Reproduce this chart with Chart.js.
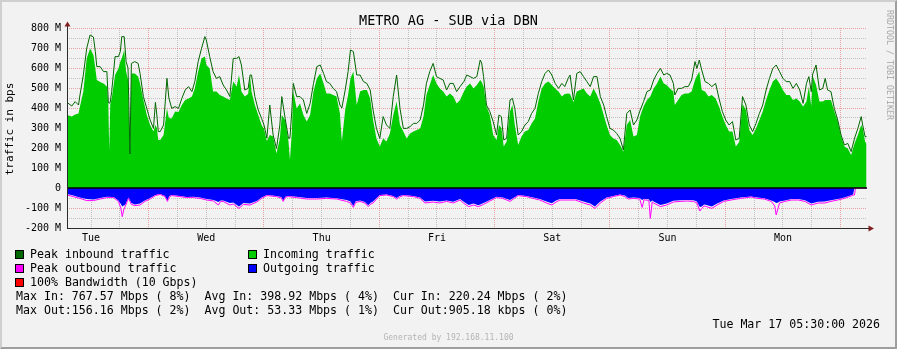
<!DOCTYPE html>
<html><head><meta charset="utf-8">
<script src="https://cdn.jsdelivr.net/npm/chart.js@4.4.1/dist/chart.umd.min.js"></script>
<style>
html,body{margin:0;padding:0;background:#f2f2f2;}
#wrap{position:relative;width:897px;height:349px;background:#f2f2f2;overflow:hidden;font-family:"DejaVu Sans Mono",monospace;color:#000;}
#c{position:absolute;left:0;top:0;}
.t{position:absolute;white-space:pre;font-size:11.6px;line-height:14px;}
.box{position:absolute;width:7px;height:7px;border:1px solid #000;}
#frame{position:absolute;left:0;top:0;width:897px;height:349px;box-sizing:border-box;border-top:2px solid #cfcfcf;border-left:2px solid #cfcfcf;border-bottom:2px solid #9e9e9e;border-right:2px solid #9e9e9e;pointer-events:none;}
</style></head>
<body>
<div id="wrap">
<canvas id="c" width="897" height="349"></canvas>
<div class="t" style="left:0;width:897px;top:12px;text-align:center;font-size:13.5px;line-height:16px;">METRO AG - SUB via DBN</div>
<div class="t" style="left:-90px;top:122px;width:200px;text-align:center;font-size:11px;transform:rotate(-90deg);">traffic in bps</div>
<div class="t" style="left:840px;top:54px;width:100px;text-align:center;font-size:8.3px;line-height:12px;color:#a8a8a8;transform:rotate(90deg);">RRDTOOL / TOBI OETIKER</div>
<div class="box" style="left:15px;top:250px;background:#006600"></div>
<div class="t" style="left:30px;top:247px;">Peak inbound traffic</div>
<div class="box" style="left:248px;top:250px;background:#00cc00"></div>
<div class="t" style="left:263px;top:247px;">Incoming traffic</div>
<div class="box" style="left:15px;top:264px;background:#ff00ff"></div>
<div class="t" style="left:30px;top:261px;">Peak outbound traffic</div>
<div class="box" style="left:248px;top:264px;background:#0000ff"></div>
<div class="t" style="left:263px;top:261px;">Outgoing traffic</div>
<div class="box" style="left:15px;top:278px;background:#ff0000"></div>
<div class="t" style="left:30px;top:275px;">100% Bandwidth (10 Gbps)</div>
<div class="t" style="left:16px;top:289px;">Max In: 767.57 Mbps ( 8%)  Avg In: 398.92 Mbps ( 4%)  Cur In: 220.24 Mbps ( 2%)</div>
<div class="t" style="left:16px;top:303px;">Max Out:156.16 Mbps ( 2%)  Avg Out: 53.33 Mbps ( 1%)  Cur Out:905.18 kbps ( 0%)</div>
<div class="t" style="right:17px;top:317px;">Tue Mar 17 05:30:00 2026</div>
<div class="t" style="left:0;width:897px;top:332px;text-align:center;font-size:8px;line-height:12px;color:#b4b4b4;">Generated by 192.168.11.100</div>
<div id="frame"></div>
</div>
<script>
// hours since Tue Mar 10 00:00
const tStart = 7.0, tEnd = 173.5;
const dayLabels = ['Tue','Wed','Thu','Fri','Sat','Sun','Mon'];
const dayNoonHours = [12,36,60,84,108,132,156];
const xGridHours = [12,18,24,30,36,42,48,54,60,66,72,78,84,90,96,102,108,114,120,126,132,138,144,150,156,162,168];
const yGridValues = [-200,-150,-100,-50,0,50,100,150,200,250,300,350,400,450,500,550,600,650,700,750,800];
const yTickValues = [-200,-100,0,100,200,300,400,500,600,700,800];
const yTickLabels = ['-200 M','-100 M','0','100 M','200 M','300 M','400 M','500 M','600 M','700 M','800 M'];

const inHours = [7.0,8.0,8.7,9.4,9.7,10.4,11.1,11.8,12.5,12.9,13.2,13.9,14.6,15.3,15.6,15.8,16.0,16.3,17.0,17.7,18.1,18.4,18.9,19.3,19.7,20.1,20.4,21.1,21.8,22.2,22.9,23.6,24.3,25.0,25.4,25.7,26.0,26.4,27.1,27.8,28.2,28.8,29.5,30.2,30.9,31.6,32.3,33.0,33.6,34.3,35.0,35.7,36.0,36.7,37.4,38.1,38.8,39.5,40.2,40.9,41.6,42.3,42.8,43.3,44.0,44.7,45.1,45.4,46.1,46.8,47.5,48.0,48.6,49.2,49.9,50.6,51.3,51.7,52.4,53.1,53.4,53.8,54.1,54.8,55.5,56.2,56.9,57.6,58.3,59.0,59.7,60.4,61.0,61.7,62.4,63.1,63.8,64.2,64.9,65.5,66.0,66.6,67.3,68.0,68.7,69.4,70.1,70.7,71.4,72.1,72.8,73.5,74.2,74.9,75.6,76.3,77.0,77.7,78.4,79.1,79.8,80.5,81.2,81.8,82.5,83.2,83.9,84.6,85.3,86.0,86.7,87.4,88.1,88.8,89.6,90.2,90.9,91.6,92.3,93.0,93.3,93.7,94.3,95.0,95.7,96.4,96.9,97.4,97.9,98.5,99.2,99.7,100.2,100.9,101.6,102.3,103.0,103.7,104.4,105.1,105.8,106.5,107.2,107.9,108.6,109.3,110.0,110.6,111.3,111.7,112.4,113.1,113.8,114.5,115.2,115.9,116.6,117.3,118.0,118.7,119.3,120.0,120.7,121.4,122.1,122.8,123.5,124.2,124.9,125.6,126.3,127.0,127.7,128.4,129.1,129.8,130.5,131.2,131.8,132.5,133.2,133.5,134.2,134.9,135.6,136.3,137.0,137.7,138.1,138.6,139.1,139.8,140.5,141.2,142.0,142.7,143.4,144.1,144.8,145.5,146.2,146.9,147.6,148.3,149.0,149.7,150.4,151.1,151.8,152.5,153.2,153.9,154.6,155.3,156.0,156.7,157.4,158.1,158.8,159.5,160.2,160.9,161.4,161.9,162.2,162.9,163.6,164.3,164.8,165.3,166.0,166.7,167.4,168.1,168.8,169.5,170.2,170.9,171.6,172.3,172.6,173.1,173.4];
const inPeak = [428,410,432,415,465,565,698,765,755,682,607,607,582,582,430,423,430,482,657,657,682,757,757,632,600,170,623,632,623,573,457,398,340,298,428,365,282,282,315,548,450,398,407,398,448,490,507,482,532,632,698,757,740,657,582,548,557,515,490,457,648,648,657,615,490,498,565,565,457,390,348,315,250,415,265,198,315,457,348,248,250,390,523,457,457,440,373,423,523,607,615,573,532,523,498,482,415,400,490,582,690,682,565,565,532,523,490,390,298,248,357,315,298,457,565,398,298,298,307,323,323,340,415,523,582,623,557,548,540,490,523,523,482,507,532,565,557,548,557,640,625,557,415,382,332,265,365,357,240,248,440,448,398,265,282,315,332,373,398,473,532,573,590,565,523,498,523,507,548,565,440,573,582,557,532,507,557,557,457,415,357,298,290,273,248,190,373,390,315,340,390,432,482,490,540,573,598,565,573,565,523,465,498,498,507,507,540,632,598,640,590,532,523,507,523,448,382,340,315,332,240,248,457,415,315,282,323,373,415,490,548,598,615,582,548,532,532,498,523,490,423,523,557,482,570,615,490,498,548,490,482,398,340,265,215,223,182,248,298,357,315,257,257];
const inAvg = [365,358,368,372,407,482,648,698,665,598,540,530,523,507,420,185,420,448,565,598,632,648,690,582,540,160,573,573,557,523,440,365,315,282,315,300,240,240,265,398,350,348,382,380,415,440,448,457,498,582,648,657,615,598,482,482,465,457,448,440,532,507,565,482,457,470,560,482,415,365,315,295,235,265,258,173,248,365,340,232,140,282,482,398,423,365,332,365,482,548,573,523,473,473,465,457,373,232,390,465,548,582,415,482,490,490,448,340,248,207,248,232,273,365,432,315,282,248,273,282,290,298,357,465,515,565,523,498,482,457,473,457,423,440,482,507,523,498,515,540,530,507,407,365,265,240,315,300,207,232,382,415,315,215,257,282,290,323,348,432,498,523,532,515,498,482,457,470,473,470,430,482,490,498,473,457,498,465,423,365,315,265,248,240,215,182,315,340,257,265,360,407,440,457,498,523,557,523,515,498,482,415,440,465,473,473,482,540,560,582,490,482,457,465,448,407,357,315,282,282,207,230,420,390,290,265,298,340,382,440,490,532,548,523,490,465,465,440,448,432,407,432,507,407,560,515,432,432,440,440,440,382,332,257,207,198,165,223,265,315,300,232,220];

const outHours = [7.0,8.3,9.7,11.1,12.5,13.9,15.3,16.7,17.7,18.2,18.5,18.8,19.1,19.8,20.4,21.1,22.2,23.2,24.3,25.4,26.4,27.4,27.9,28.3,28.8,30.5,31.9,33.3,34.7,36.1,37.5,38.5,39.0,39.5,40.9,41.6,42.8,43.7,45.1,46.5,47.5,48.6,50.6,51.6,52.0,52.5,53.1,54.8,56.9,59.0,61.0,63.1,65.2,66.0,66.6,67.1,68.0,69.0,69.7,70.2,70.7,72.1,73.5,74.9,75.6,76.2,77.0,79.1,80.5,81.5,83.2,84.6,86.0,87.4,88.8,89.5,90.6,91.6,92.6,93.7,95.0,96.4,97.7,99.2,99.9,100.9,102.6,104.0,105.4,106.8,107.9,108.8,109.6,111.0,112.8,114.5,115.9,116.9,117.4,118.0,119.3,120.7,122.1,123.1,123.8,124.9,126.2,126.7,127.1,127.4,128.1,128.4,128.8,129.1,130.5,131.8,133.2,134.6,136.0,137.4,138.1,138.7,139.1,139.6,140.1,141.2,142.3,143.7,145.2,147.2,149.4,150.7,152.1,153.6,154.3,154.6,155.0,155.3,156.4,157.8,159.2,160.6,161.9,163.3,164.7,166.0,167.4,168.8,170.2,170.6,170.9,171.1,173.4];
const outPeak = [-35,-43,-52,-63,-63,-55,-48,-48,-67,-100,-143,-110,-93,-52,-82,-88,-85,-67,-55,-38,-32,-43,-67,-45,-38,-43,-48,-48,-52,-60,-65,-85,-67,-67,-85,-80,-102,-82,-85,-70,-52,-38,-43,-50,-67,-45,-43,-48,-55,-55,-52,-55,-67,-75,-97,-72,-67,-75,-93,-80,-75,-38,-35,-43,-55,-45,-38,-43,-52,-75,-70,-75,-67,-75,-60,-75,-93,-85,-93,-82,-65,-48,-52,-67,-55,-38,-43,-52,-60,-75,-85,-70,-60,-60,-60,-75,-85,-102,-90,-75,-52,-43,-35,-43,-55,-52,-55,-97,-58,-60,-62,-152,-70,-75,-93,-85,-70,-67,-65,-67,-75,-115,-102,-90,-93,-102,-85,-67,-60,-52,-45,-52,-55,-67,-90,-135,-100,-75,-67,-60,-60,-67,-85,-75,-75,-67,-60,-52,-40,-35,-35,0,0];
const outAvg = [-30,-38,-47,-55,-57,-50,-44,-45,-62,-80,-93,-88,-85,-48,-75,-82,-78,-62,-50,-35,-30,-40,-62,-40,-35,-40,-45,-44,-48,-55,-60,-70,-62,-63,-75,-72,-92,-75,-78,-65,-48,-35,-40,-45,-62,-42,-40,-44,-50,-50,-48,-51,-60,-68,-90,-66,-62,-70,-86,-74,-68,-35,-32,-40,-50,-40,-35,-40,-48,-68,-64,-68,-62,-69,-55,-68,-85,-78,-86,-75,-60,-44,-47,-60,-50,-35,-40,-47,-55,-68,-76,-63,-55,-55,-55,-68,-78,-92,-80,-68,-48,-40,-32,-38,-50,-47,-50,-60,-54,-55,-56,-70,-63,-68,-85,-78,-64,-61,-60,-61,-68,-95,-93,-83,-85,-93,-78,-62,-55,-48,-42,-48,-51,-62,-70,-75,-72,-68,-62,-55,-55,-61,-77,-69,-68,-61,-55,-47,-36,-33,0,0,0];

const zip = (xs, ys) => xs.map((x, i) => ({x: x, y: ys[i]}));

const MAJOR = 'rgba(222,79,79,0.5)';
const MINOR = 'rgba(143,143,143,0.5)';

const axesPlugin = {
  id: 'rrdAxes',
  afterDatasetsDraw(chart) {
    const ctx = chart.ctx, a = chart.chartArea;
    ctx.save();
    ctx.strokeStyle = '#2a2a2a';
    ctx.lineWidth = 1;
    ctx.beginPath();
    ctx.moveTo(a.left + 0.5, a.bottom + 1);
    ctx.lineTo(a.left + 0.5, a.top - 2);
    ctx.moveTo(a.left, a.bottom + 0.5);
    ctx.lineTo(a.right + 2, a.bottom + 0.5);
    ctx.stroke();
    ctx.fillStyle = '#801f1f';
    ctx.beginPath();
    ctx.moveTo(a.left + 0.5, a.top - 6.5);
    ctx.lineTo(a.left + 3.5, a.top - 1.5);
    ctx.lineTo(a.left - 2.5, a.top - 1.5);
    ctx.closePath();
    ctx.fill();
    ctx.beginPath();
    ctx.moveTo(a.right + 7, a.bottom + 0.5);
    ctx.lineTo(a.right + 1.5, a.bottom + 3.5);
    ctx.lineTo(a.right + 1.5, a.bottom - 2.5);
    ctx.closePath();
    ctx.fill();
    ctx.restore();
  }
};

const tickFont = {family: 'DejaVu Sans Mono', size: 10};

new Chart(document.getElementById('c'), {
  type: 'line',
  data: {
    datasets: [
      {label: 'zero', data: [{x: tStart, y: 0}, {x: tEnd, y: 0}], borderColor: '#000', borderWidth: 1.5, order: 1},
      {label: 'Peak outbound traffic', data: zip(outHours, outPeak), borderColor: '#ff00ff', borderWidth: 1, order: 2},
      {label: 'Outgoing traffic', data: zip(outHours, outAvg), borderColor: 'rgba(0,0,0,0)', borderWidth: 0, backgroundColor: '#0000ff', fill: 'origin', order: 3},
      {label: 'Peak inbound traffic', data: zip(inHours, inPeak), borderColor: '#006600', borderWidth: 1, order: 4},
      {label: 'Incoming traffic', data: zip(inHours, inAvg), borderColor: 'rgba(0,0,0,0)', borderWidth: 0, backgroundColor: '#00cc00', fill: 'origin', order: 5}
    ]
  },
  options: {
    responsive: false,
    animation: false,
    devicePixelRatio: 1,
    layout: {padding: {left: 0, top: 28, right: 30, bottom: 0}},
    plugins: {legend: {display: false}, tooltip: {enabled: false}},
    elements: {point: {radius: 0}, line: {tension: 0}},
    scales: {
      x: {
        type: 'linear', min: tStart, max: tEnd,
        afterFit: s => { s.height = 121; },
        afterBuildTicks: s => { s.ticks = xGridHours.map(v => ({value: v})); },
        ticks: {
          autoSkip: false, maxRotation: 0, minRotation: 0, padding: 4, color: '#000', font: tickFont,
          callback: v => { const i = dayNoonHours.indexOf(v); return i >= 0 ? dayLabels[i] : ''; }
        },
        grid: {color: c => (c.tick && c.tick.value % 24 === 0) ? MAJOR : MINOR, lineWidth: 1, drawTicks: false},
        border: {display: false, dash: [1, 1]}
      },
      y: {
        type: 'linear', min: -200, max: 800,
        afterFit: s => { s.width = 67; },
        afterBuildTicks: s => { s.ticks = yGridValues.map(v => ({value: v})); },
        ticks: {
          autoSkip: false, padding: 6, color: '#000', font: tickFont,
          callback: v => { const i = yTickValues.indexOf(v); return i >= 0 ? yTickLabels[i] : ''; }
        },
        grid: {color: c => (c.tick && c.tick.value % 100 === 0) ? MAJOR : MINOR, lineWidth: 1, drawTicks: false},
        border: {display: false, dash: [1, 1]}
      }
    }
  },
  plugins: [axesPlugin]
});
</script>
</body></html>
